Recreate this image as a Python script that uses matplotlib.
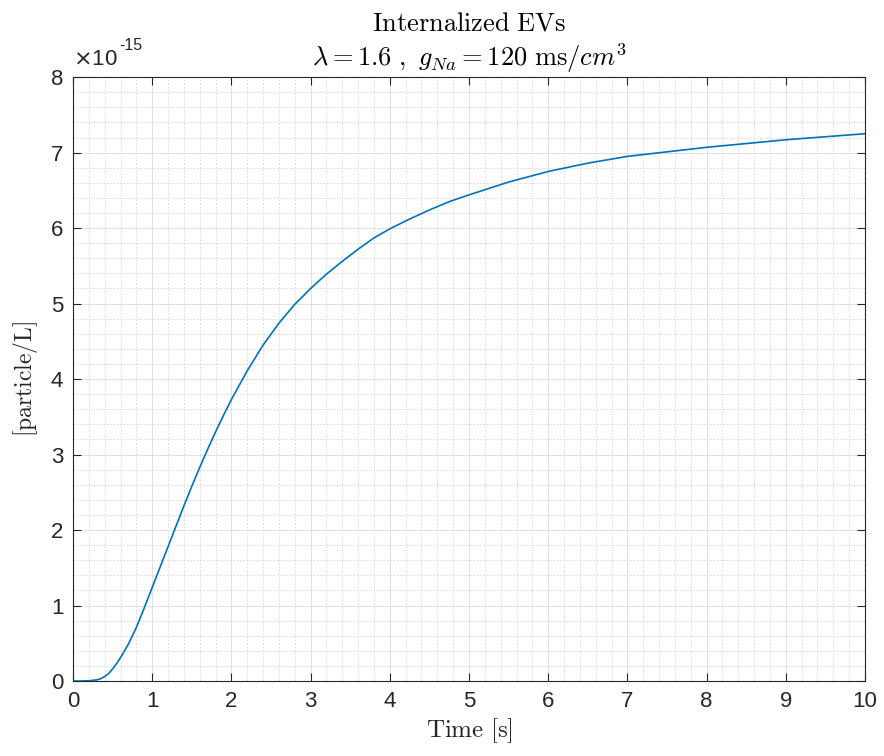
import matplotlib
matplotlib.use("Agg")
import matplotlib.pyplot as plt
import numpy as np

# values (particle/L, in units of 1e-15)
time_s = [0, 0.1, 0.2, 0.3, 0.35, 0.4, 0.45, 0.5, 0.55, 0.6, 0.65, 0.7, 0.75,
          0.8, 0.9, 1.0, 1.1, 1.2, 1.3, 1.4, 1.5, 1.6, 1.7, 1.8, 1.9, 2.0,
          2.2, 2.4, 2.6, 2.8, 3.0, 3.2, 3.4, 3.6, 3.8, 4.0, 4.25, 4.5, 4.75,
          5.0, 5.5, 6.0, 6.5, 7.0, 7.5, 8.0, 8.5, 9.0, 9.5, 10]
ev_int = [0, 0, 0.003, 0.015, 0.03, 0.06, 0.1, 0.16, 0.23, 0.31, 0.4, 0.49,
          0.6, 0.71, 0.97, 1.24, 1.51, 1.78, 2.05, 2.32, 2.58, 2.83, 3.07,
          3.3, 3.52, 3.73, 4.11, 4.45, 4.74, 4.99, 5.2, 5.39, 5.56, 5.72,
          5.87, 5.99, 6.12, 6.24, 6.35, 6.44, 6.61, 6.75, 6.86, 6.95, 7.01,
          7.07, 7.12, 7.17, 7.21, 7.25]
scale = 1e-15
x_ticks = list(range(11))
y_ticks = list(range(9))

plt.rcParams['mathtext.fontset'] = 'cm'
plt.rcParams['font.family'] = ['Liberation Sans', 'DejaVu Sans']
dark = '#262626'

fig = plt.figure(figsize=(8.84, 7.56), dpi=100)
ax = fig.add_axes([0.0826, 0.0992, 0.8959, 0.7988])

ax.plot(time_s, np.array(ev_int) * scale, color='#0072BD', lw=1.2)

ax.set_xlim(0, 10)
ax.set_ylim(0, 8 * scale)
ax.set_xticks(x_ticks, [str(v) for v in x_ticks])
ax.set_yticks(np.array(y_ticks) * scale, [str(v) for v in y_ticks])
ax.set_xticks(np.arange(0, 10.01, 0.2), minor=True)
ax.set_yticks(np.arange(0, 8.01, 0.2) * scale, minor=True)

ax.grid(True, which='major', color='#dcdcdc', lw=0.6, ls='-')
ax.grid(True, which='minor', color='#d4d4d4', lw=0.6, ls=(0, (2, 2)))
ax.set_axisbelow(True)

ax.tick_params(which='major', direction='in', length=6, width=0.8,
               top=True, right=True, colors=dark, labelsize=16, pad=7)
ax.tick_params(which='minor', length=0, top=True, right=True)
for sp in ax.spines.values():
    sp.set_color(dark)
    sp.set_linewidth(0.8)

ax.text(0.0, 1.012, r'$\times$10', transform=ax.transAxes, fontsize=16,
        color=dark, ha='left', va='bottom', math_fontfamily='dejavusans')
ax.text(0.058, 1.04, '-15', transform=ax.transAxes, fontsize=11.5,
        color=dark, ha='left', va='bottom')

ax.set_title(r'$\mathrm{Internalized\ EVs}$' + '\n'
             + r'$\mathrm{\lambda{=}1.6\ ,\ }g_{Na} = \mathrm{120\ ms}/cm^3$',
             fontsize=19, color='#000000', pad=8, linespacing=1.25)
ax.set_xlabel(r'$\mathrm{Time\ [s]}$', fontsize=18, color=dark, labelpad=3)
ax.set_ylabel(r'$\mathrm{[particle/L]}$', fontsize=17, color=dark, labelpad=8)

fig.savefig('out.png', dpi=100)
